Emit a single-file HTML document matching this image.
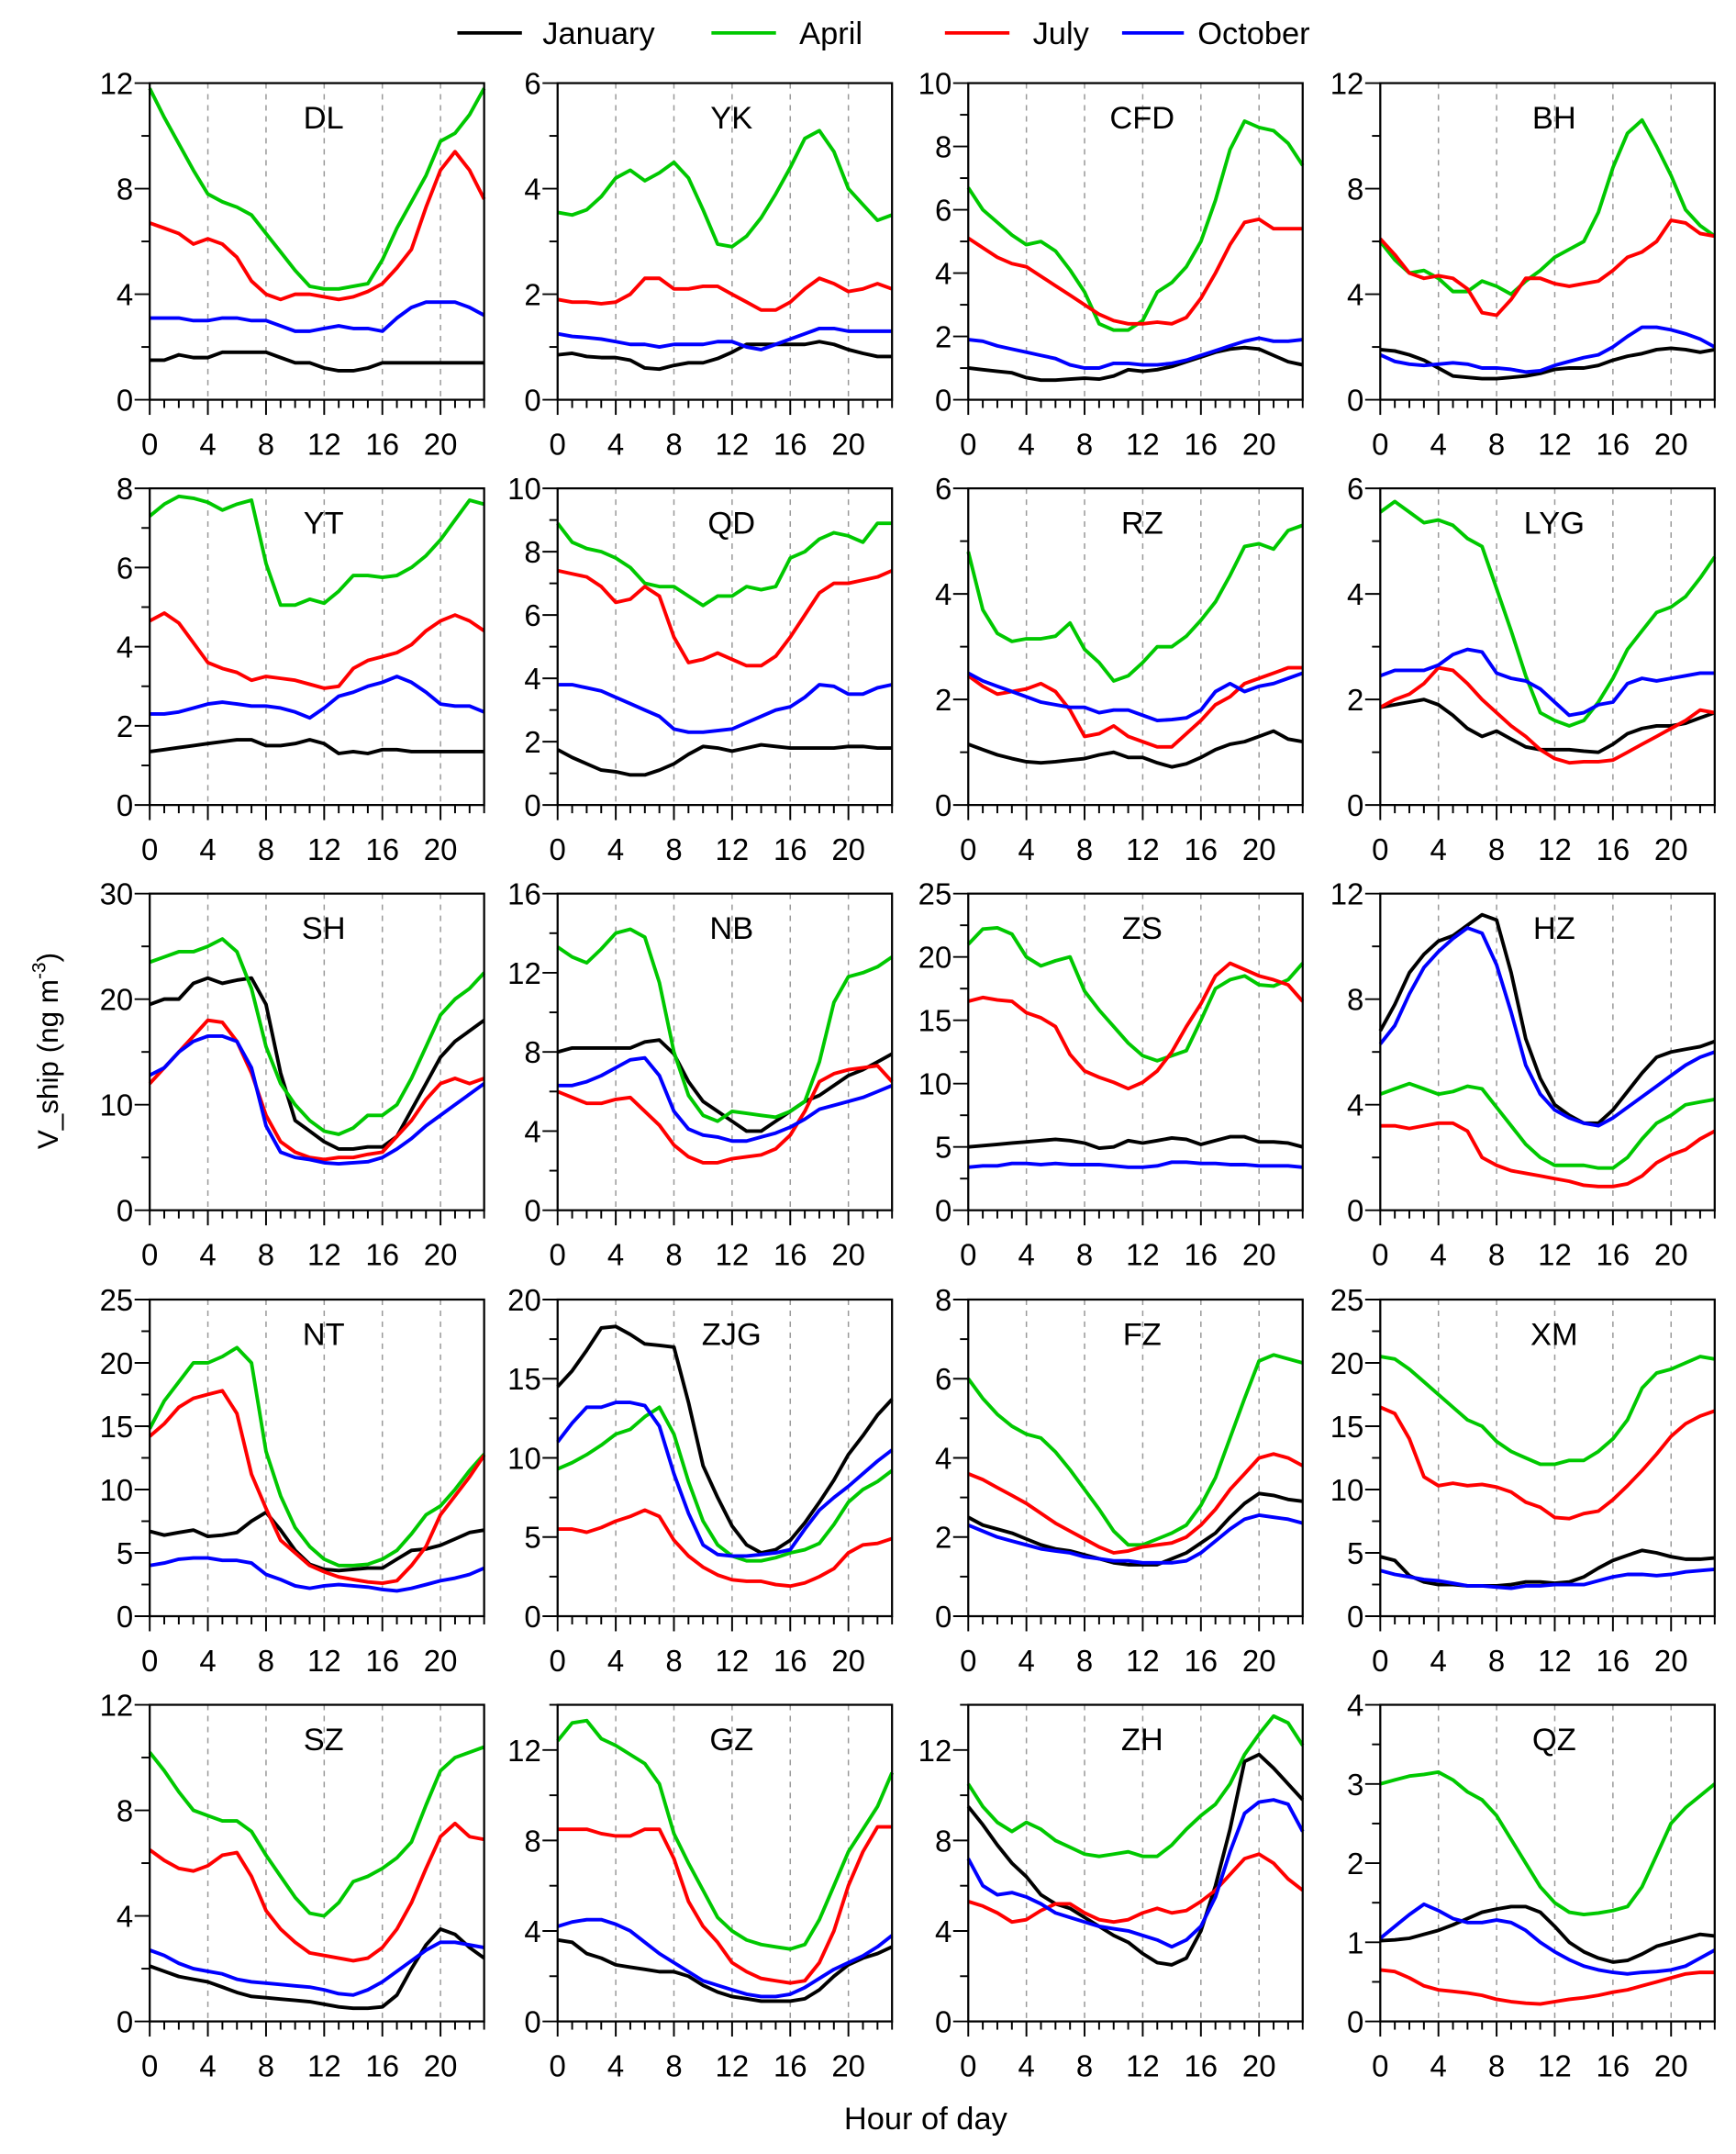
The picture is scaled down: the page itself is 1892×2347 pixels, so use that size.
<!DOCTYPE html>
<html><head><meta charset="utf-8"><style>
html,body{margin:0;padding:0;background:#fff}
svg{display:block}
text{font-family:"Liberation Sans",Arial,sans-serif;fill:#000}
</style></head><body>
<svg id="chart" width="1892" height="2347" viewBox="0 0 1264 1568" xmlns="http://www.w3.org/2000/svg">
<g>
<line x1="333" y1="24" x2="380" y2="24" stroke="#000" stroke-width="2.5"/><text x="395" y="32" font-size="23">January</text>
<line x1="518" y1="24" x2="565" y2="24" stroke="#00c800" stroke-width="2.5"/><text x="582" y="32" font-size="23">April</text>
<line x1="688" y1="24" x2="735" y2="24" stroke="#ff0000" stroke-width="2.5"/><text x="752" y="32" font-size="23">July</text>
<line x1="817" y1="24" x2="862" y2="24" stroke="#0000ff" stroke-width="2.5"/><text x="872" y="32" font-size="23">October</text>
</g>
<text transform="translate(42,765) rotate(-90)" text-anchor="middle" font-size="21">V_ship (ng m<tspan dy="-9" font-size="14">-3</tspan><tspan dy="9">)</tspan></text>
<text x="674" y="1550" text-anchor="middle" font-size="23">Hour of day</text>
</svg>
<script>
const stations=["DL","YK","CFD","BH","YT","QD","RZ","LYG","SH","NB","ZS","HZ","NT","ZJG","FZ","XM","SZ","GZ","ZH","QZ"];
const yMaxes=[12,6,10,12,8,10,6,6,30,16,25,12,25,20,8,25,12,14,14,4];
const ySteps=[4,2,2,4,2,2,2,2,10,4,5,4,5,5,2,5,4,4,4,1];
const hours=[0,1,2,3,4,5,6,7,8,9,10,11,12,13,14,15,16,17,18,19,20,21,22,23];
const xTickLabels=[0,4,8,12,16,20];
const jan=[
[1.5,1.5,1.7,1.6,1.6,1.8,1.8,1.8,1.8,1.6,1.4,1.4,1.2,1.1,1.1,1.2,1.4,1.4,1.4,1.4,1.4,1.4,1.4,1.4],
[.85,.88,.82,.8,.8,.75,.6,.58,.65,.7,.7,.78,.9,1.05,1.05,1.05,1.05,1.05,1.1,1.05,.95,.88,.82,.82],
[1,.95,.9,.85,.7,.62,.62,.65,.68,.65,.75,.95,.9,.95,1.05,1.2,1.35,1.5,1.6,1.65,1.6,1.4,1.2,1.1],
[1.9,1.85,1.7,1.5,1.2,.9,.85,.8,.8,.85,.9,1,1.15,1.2,1.2,1.3,1.5,1.65,1.75,1.9,1.95,1.9,1.8,1.9],
[1.35,1.4,1.45,1.5,1.55,1.6,1.65,1.65,1.5,1.5,1.55,1.65,1.55,1.3,1.35,1.3,1.4,1.4,1.35,1.35,1.35,1.35,1.35,1.35],
[1.75,1.5,1.3,1.1,1.05,.95,.95,1.1,1.3,1.6,1.85,1.8,1.7,1.8,1.9,1.85,1.8,1.8,1.8,1.8,1.85,1.85,1.8,1.8],
[1.15,1.05,.95,.88,.82,.8,.82,.85,.88,.95,1,.9,.9,.8,.72,.78,.9,1.05,1.15,1.2,1.3,1.4,1.25,1.2],
[1.85,1.9,1.95,2,1.9,1.7,1.45,1.3,1.4,1.25,1.1,1.05,1.05,1.05,1.02,1,1.15,1.35,1.45,1.5,1.5,1.55,1.65,1.75],
[19.5,20,20,21.5,22,21.5,21.8,22,19.5,13,8.5,7.5,6.5,5.8,5.8,6,6,7,9.5,12,14.5,16,17,18],
[8,8.2,8.2,8.2,8.2,8.2,8.5,8.6,7.9,6.5,5.5,5,4.5,4,4,4.5,5,5.5,5.8,6.3,6.8,7.1,7.5,7.9],
[5,5.1,5.2,5.3,5.4,5.5,5.6,5.5,5.3,4.9,5,5.5,5.3,5.5,5.7,5.6,5.2,5.5,5.8,5.8,5.4,5.4,5.3,5],
[6.8,7.8,9,9.7,10.2,10.4,10.8,11.2,11,9,6.5,5,4,3.6,3.3,3.3,3.8,4.5,5.2,5.8,6,6.1,6.2,6.4],
[6.7,6.4,6.6,6.8,6.3,6.4,6.6,7.5,8.2,6.8,5.2,4.1,3.7,3.6,3.7,3.8,3.8,4.5,5.2,5.3,5.6,6.1,6.6,6.8],
[14.5,15.5,16.8,18.2,18.3,17.8,17.2,17.1,17,13.5,9.5,7.5,5.7,4.5,4,4.2,4.8,5.9,7.2,8.6,10.2,11.4,12.7,13.7],
[2.5,2.3,2.2,2.1,1.95,1.8,1.7,1.65,1.55,1.45,1.35,1.3,1.3,1.3,1.45,1.6,1.85,2.1,2.5,2.85,3.1,3.05,2.95,2.9],
[4.7,4.4,3.2,2.7,2.5,2.5,2.4,2.4,2.4,2.5,2.7,2.7,2.6,2.7,3.1,3.8,4.4,4.8,5.2,5,4.7,4.5,4.5,4.6],
[2.1,1.9,1.7,1.6,1.5,1.3,1.1,.95,.9,.85,.8,.75,.65,.55,.5,.5,.55,1,2,2.9,3.5,3.3,2.8,2.4],
[3.6,3.5,3,2.8,2.5,2.4,2.3,2.2,2.2,2,1.6,1.3,1.1,1,.9,.9,.9,1,1.4,2,2.5,2.8,3,3.3],
[9.5,8.7,7.8,7,6.4,5.6,5.2,5,4.6,4.2,3.8,3.5,3,2.6,2.5,2.8,4,6,8.5,11.5,11.8,11.2,10.5,9.8],
[1.02,1.03,1.05,1.1,1.15,1.22,1.3,1.38,1.42,1.45,1.45,1.38,1.2,1,.88,.8,.75,.77,.85,.95,1,1.05,1.1,1.08]];
const apr=[
[11.8,10.7,9.7,8.7,7.8,7.5,7.3,7,6.3,5.6,4.9,4.3,4.2,4.2,4.3,4.4,5.3,6.5,7.5,8.5,9.8,10.1,10.8,11.8],
[3.55,3.5,3.6,3.85,4.2,4.35,4.15,4.3,4.5,4.2,3.6,2.95,2.9,3.1,3.45,3.9,4.4,4.95,5.1,4.7,4,3.7,3.4,3.5],
[6.7,6,5.6,5.2,4.9,5,4.7,4.1,3.4,2.4,2.2,2.2,2.5,3.4,3.7,4.2,5,6.3,7.9,8.8,8.6,8.5,8.1,7.4],
[6,5.3,4.8,4.9,4.6,4.1,4.1,4.5,4.3,4,4.5,4.9,5.4,5.7,6,7.1,8.8,10.1,10.6,9.6,8.5,7.2,6.6,6.2],
[7.3,7.6,7.8,7.75,7.65,7.45,7.6,7.7,6.1,5.05,5.05,5.2,5.1,5.4,5.8,5.8,5.75,5.8,6,6.3,6.7,7.2,7.7,7.6],
[8.9,8.3,8.1,8,7.8,7.5,7,6.9,6.9,6.6,6.3,6.6,6.6,6.9,6.8,6.9,7.8,8,8.4,8.6,8.5,8.3,8.9,8.9],
[4.8,3.7,3.25,3.1,3.15,3.15,3.2,3.45,2.95,2.7,2.35,2.45,2.7,3,3,3.2,3.5,3.85,4.35,4.9,4.95,4.85,5.2,5.3],
[5.55,5.75,5.55,5.35,5.4,5.3,5.05,4.9,4.1,3.3,2.45,1.75,1.6,1.5,1.6,1.95,2.4,2.95,3.3,3.65,3.75,3.95,4.3,4.7],
[23.5,24,24.5,24.5,25,25.7,24.5,21,15.5,12,10,8.5,7.5,7.2,7.8,9,9,10,12.5,15.5,18.5,20,21,22.5],
[13.3,12.8,12.5,13.2,14,14.2,13.8,11.5,8,5.8,4.8,4.5,5,4.9,4.8,4.7,5,5.5,7.5,10.5,11.8,12,12.3,12.8],
[21,22.2,22.3,21.8,20,19.3,19.7,20,17.3,15.8,14.5,13.2,12.2,11.8,12.2,12.6,15,17.5,18.2,18.5,17.8,17.7,18.2,19.5],
[4.4,4.6,4.8,4.6,4.4,4.5,4.7,4.6,3.9,3.2,2.5,2,1.7,1.7,1.7,1.6,1.6,2,2.7,3.3,3.6,4,4.1,4.2],
[14.8,17,18.5,20,20,20.5,21.2,20,13,9.5,7,5.5,4.5,4,4,4.1,4.5,5.2,6.5,8,8.7,10,11.5,12.8],
[9.3,9.7,10.2,10.8,11.5,11.8,12.6,13.2,11.5,8.5,6,4.5,3.8,3.5,3.5,3.7,4,4.2,4.6,5.8,7.2,8,8.5,9.2],
[6,5.5,5.1,4.8,4.6,4.5,4.15,3.7,3.2,2.7,2.15,1.8,1.8,1.95,2.1,2.3,2.8,3.5,4.5,5.5,6.45,6.6,6.5,6.4],
[20.5,20.3,19.5,18.5,17.5,16.5,15.5,15,13.8,13,12.5,12,12,12.3,12.3,13,14,15.5,18,19.2,19.5,20,20.5,20.3],
[10.2,9.5,8.7,8,7.8,7.6,7.6,7.2,6.3,5.5,4.7,4.1,4,4.5,5.3,5.5,5.8,6.2,6.8,8.2,9.5,10,10.2,10.4],
[12.4,13.2,13.3,12.5,12.2,11.8,11.4,10.5,8.3,7,5.8,4.6,4,3.6,3.4,3.3,3.2,3.4,4.5,6,7.5,8.5,9.5,11],
[10.5,9.5,8.8,8.4,8.8,8.5,8,7.7,7.4,7.3,7.4,7.5,7.3,7.3,7.8,8.5,9.1,9.6,10.5,11.8,12.7,13.5,13.2,12.2],
[3,3.05,3.1,3.12,3.15,3.05,2.9,2.8,2.6,2.3,2,1.7,1.5,1.38,1.35,1.37,1.4,1.45,1.7,2.1,2.5,2.7,2.85,3]];
const jul=[
[6.7,6.5,6.3,5.9,6.1,5.9,5.4,4.5,4,3.8,4,4,3.9,3.8,3.9,4.1,4.4,5,5.7,7.3,8.7,9.4,8.7,7.6],
[1.9,1.85,1.85,1.82,1.85,2,2.3,2.3,2.1,2.1,2.15,2.15,2,1.85,1.7,1.7,1.85,2.1,2.3,2.2,2.05,2.1,2.2,2.1],
[5.1,4.8,4.5,4.3,4.2,3.9,3.6,3.3,3,2.7,2.5,2.4,2.4,2.45,2.4,2.6,3.2,4,4.9,5.6,5.7,5.4,5.4,5.4],
[6.1,5.5,4.8,4.6,4.7,4.6,4.2,3.3,3.2,3.8,4.6,4.6,4.4,4.3,4.4,4.5,4.9,5.4,5.6,6,6.8,6.7,6.3,6.2],
[4.65,4.85,4.6,4.1,3.6,3.45,3.35,3.15,3.25,3.2,3.15,3.05,2.95,3,3.45,3.65,3.75,3.85,4.05,4.4,4.65,4.8,4.65,4.4],
[7.4,7.3,7.2,6.9,6.4,6.5,6.9,6.6,5.3,4.5,4.6,4.8,4.6,4.4,4.4,4.7,5.3,6,6.7,7,7,7.1,7.2,7.4],
[2.45,2.25,2.1,2.15,2.2,2.3,2.15,1.8,1.3,1.35,1.5,1.3,1.2,1.1,1.1,1.35,1.6,1.9,2.05,2.3,2.4,2.5,2.6,2.6],
[1.85,2,2.1,2.3,2.6,2.55,2.3,2,1.75,1.5,1.3,1.05,.88,.8,.82,.82,.85,1,1.15,1.3,1.45,1.6,1.8,1.75],
[12,13.5,15,16.5,18,17.8,16,13,9,6.5,5.5,5,4.8,5,5,5.3,5.5,7,8.5,10.5,12,12.5,12,12.5],
[6,5.7,5.4,5.4,5.6,5.7,5,4.3,3.3,2.7,2.4,2.4,2.6,2.7,2.8,3.1,3.8,5,6.5,6.9,7.1,7.2,7.3,6.5],
[16.5,16.8,16.6,16.5,15.6,15.2,14.5,12.3,11,10.5,10.1,9.6,10.1,11,12.5,14.5,16.3,18.5,19.5,19,18.5,18.2,17.8,16.5],
[3.2,3.2,3.1,3.2,3.3,3.3,3,2,1.7,1.5,1.4,1.3,1.2,1.1,.95,.9,.9,1,1.3,1.8,2.1,2.3,2.7,3],
[14.2,15.2,16.5,17.2,17.5,17.8,16,11.2,8.5,6,5,4,3.5,3.1,2.9,2.7,2.6,2.8,4,5.5,8,9.5,11,12.7],
[5.5,5.5,5.3,5.6,6,6.3,6.7,6.3,4.8,3.8,3.1,2.6,2.3,2.2,2.2,2,1.9,2.1,2.5,3,4,4.5,4.6,4.9],
[3.6,3.45,3.25,3.05,2.85,2.6,2.35,2.15,1.95,1.75,1.6,1.65,1.75,1.8,1.85,2,2.3,2.7,3.2,3.6,4,4.1,4,3.8],
[16.5,16,14,11,10.3,10.5,10.3,10.4,10.2,9.8,9,8.6,7.8,7.7,8.1,8.3,9.2,10.3,11.5,12.8,14.2,15.2,15.8,16.2],
[6.5,6.1,5.8,5.7,5.9,6.3,6.4,5.5,4.2,3.5,3,2.6,2.5,2.4,2.3,2.4,2.8,3.5,4.5,5.8,7,7.5,7,6.9],
[8.5,8.5,8.5,8.3,8.2,8.2,8.5,8.5,7.2,5.3,4.2,3.5,2.6,2.2,1.9,1.8,1.7,1.8,2.6,4,6,7.5,8.6,8.6],
[5.3,5.1,4.8,4.4,4.5,4.9,5.2,5.2,4.8,4.5,4.4,4.5,4.8,5,4.8,4.9,5.3,5.8,6.5,7.2,7.4,7,6.3,5.8],
[.65,.63,.55,.45,.4,.38,.36,.33,.28,.25,.23,.22,.25,.28,.3,.33,.37,.4,.45,.5,.55,.6,.62,.62]];
const oct=[
[3.1,3.1,3.1,3,3,3.1,3.1,3,3,2.8,2.6,2.6,2.7,2.8,2.7,2.7,2.6,3.1,3.5,3.7,3.7,3.7,3.5,3.2],
[1.25,1.2,1.18,1.15,1.1,1.05,1.05,1,1.05,1.05,1.05,1.1,1.1,1,.95,1.05,1.15,1.25,1.35,1.35,1.3,1.3,1.3,1.3],
[1.9,1.85,1.7,1.6,1.5,1.4,1.3,1.1,1,1,1.15,1.15,1.1,1.1,1.15,1.25,1.4,1.55,1.7,1.85,1.95,1.85,1.85,1.9],
[1.7,1.45,1.35,1.3,1.35,1.4,1.35,1.2,1.2,1.15,1.05,1.1,1.3,1.45,1.6,1.7,2,2.4,2.75,2.75,2.65,2.5,2.3,2],
[2.3,2.3,2.35,2.45,2.55,2.6,2.55,2.5,2.5,2.45,2.35,2.2,2.45,2.75,2.85,3,3.1,3.25,3.1,2.85,2.55,2.5,2.5,2.35],
[3.8,3.8,3.7,3.6,3.4,3.2,3,2.8,2.4,2.3,2.3,2.35,2.4,2.6,2.8,3,3.1,3.4,3.8,3.75,3.5,3.5,3.7,3.8],
[2.5,2.35,2.25,2.15,2.05,1.95,1.9,1.85,1.85,1.75,1.8,1.8,1.7,1.6,1.62,1.65,1.8,2.15,2.3,2.15,2.25,2.3,2.4,2.5],
[2.45,2.55,2.55,2.55,2.65,2.85,2.95,2.9,2.5,2.4,2.35,2.2,1.95,1.7,1.75,1.9,1.95,2.3,2.4,2.35,2.4,2.45,2.5,2.5],
[12.8,13.5,15,16,16.5,16.5,16,13.5,8,5.5,5,4.8,4.5,4.4,4.5,4.6,5,5.8,6.8,8,9,10,11,12],
[6.3,6.3,6.5,6.8,7.2,7.6,7.7,6.8,5,4.1,3.8,3.7,3.5,3.5,3.7,3.9,4.2,4.6,5.1,5.3,5.5,5.7,6,6.3],
[3.4,3.5,3.5,3.7,3.7,3.6,3.7,3.6,3.6,3.6,3.5,3.4,3.4,3.5,3.8,3.8,3.7,3.7,3.6,3.6,3.5,3.5,3.5,3.4],
[6.3,7,8.2,9.2,9.8,10.3,10.7,10.5,9.3,7.5,5.5,4.4,3.8,3.5,3.3,3.2,3.5,3.9,4.3,4.7,5.1,5.5,5.8,6],
[4,4.2,4.5,4.6,4.6,4.4,4.4,4.2,3.3,2.9,2.4,2.2,2.4,2.5,2.4,2.3,2.1,2,2.2,2.5,2.8,3,3.3,3.8],
[11,12.2,13.2,13.2,13.5,13.5,13.3,12,9,6.5,4.5,3.9,3.8,3.8,3.9,4,4.2,5.5,6.7,7.5,8.2,9,9.8,10.5],
[2.3,2.15,2,1.9,1.8,1.7,1.65,1.6,1.5,1.45,1.4,1.4,1.35,1.35,1.35,1.4,1.6,1.9,2.2,2.45,2.55,2.5,2.45,2.35],
[3.6,3.3,3.1,2.9,2.8,2.6,2.4,2.4,2.3,2.2,2.4,2.4,2.5,2.5,2.5,2.8,3.1,3.3,3.3,3.2,3.3,3.5,3.6,3.7],
[2.7,2.5,2.2,2,1.9,1.8,1.6,1.5,1.45,1.4,1.35,1.3,1.2,1.05,1,1.2,1.5,1.9,2.3,2.7,3,3,2.9,2.8],
[4.2,4.4,4.5,4.5,4.3,4,3.5,3,2.6,2.2,1.8,1.6,1.4,1.2,1.1,1.1,1.2,1.5,1.9,2.3,2.6,2.9,3.3,3.8],
[7.2,6,5.6,5.7,5.5,5.2,4.8,4.6,4.4,4.2,4.1,4,3.8,3.6,3.3,3.6,4.2,5.5,7.5,9.2,9.7,9.8,9.6,8.4],
[1.05,1.2,1.35,1.48,1.4,1.3,1.25,1.25,1.28,1.25,1.15,1,.88,.78,.7,.65,.62,.6,.62,.63,.65,.7,.8,.9]];
const seriesNames=["january","april","july","october"];

const NS="http://www.w3.org/2000/svg";
const svg=document.getElementById("chart");
const colX=[109,406,705,1005], rowY=[60.5,355.5,650.5,946,1241], PW=243.5, PH=230.5;
const colors=["#000000","#00c800","#ff0000","#0000ff"];
function mk(tag,attrs,parent){const e=document.createElementNS(NS,tag);for(const k in attrs)e.setAttribute(k,attrs[k]);parent.appendChild(e);return e;}
stations.forEach((st,i)=>{
  const L=colX[i%4],T=rowY[Math.floor(i/4)],B=T+PH,R=L+PW;
  const yMax=yMaxes[i],step=ySteps[i];
  const xs=h=>L+h/23*PW, ys=v=>B-v/yMax*PH;
  const g=mk("g",{},svg);
  
  
  for(let h=4;h<=20;h+=4){const gl=mk("line",{x1:xs(h),x2:xs(h),y1:T,y2:B,stroke:"#999","stroke-width":1,"stroke-dasharray":"4,4"},g);
    
    }
  for(let h=0;h<=23;h++){const maj=h%4===0;mk("line",{x1:xs(h),x2:xs(h),y1:B,y2:B+(maj?11:6),stroke:"#000","stroke-width":1.3},g);}
  xTickLabels.forEach(h=>{const t=mk("text",{x:xs(h),y:B+40,"text-anchor":"middle","font-size":22},g);t.textContent=h;
    
    });
  for(let v=0;v<=yMax+1e-9;v+=step/2){const maj=Math.abs(v/step-Math.round(v/step))<1e-6;
    mk("line",{x1:L-(maj?11:6),x2:L,y1:ys(v),y2:ys(v),stroke:"#000","stroke-width":1.3},g);
    if(maj){const t=mk("text",{x:L-12,y:ys(v)+8,"text-anchor":"end","font-size":22},g);t.textContent=Math.round(v);
      
      }}
  [jan,apr,jul,oct].forEach((arr,k)=>{
    const p=mk("polyline",{points:arr[i].map((v,h)=>xs(hours[h]).toFixed(1)+","+ys(v).toFixed(1)).join(" "),fill:"none",stroke:colors[k],"stroke-width":2.6,"stroke-linejoin":"round"},g);
    
    
  });
  const fr=mk("rect",{x:L,y:T,width:PW,height:PH,fill:"none",stroke:"#000","stroke-width":1.5},g);
  
  
  const tt=mk("text",{x:L+PW*0.52,y:T+33,"text-anchor":"middle","font-size":23},g);tt.textContent=st;
  
  
});
</script>
</body></html>
